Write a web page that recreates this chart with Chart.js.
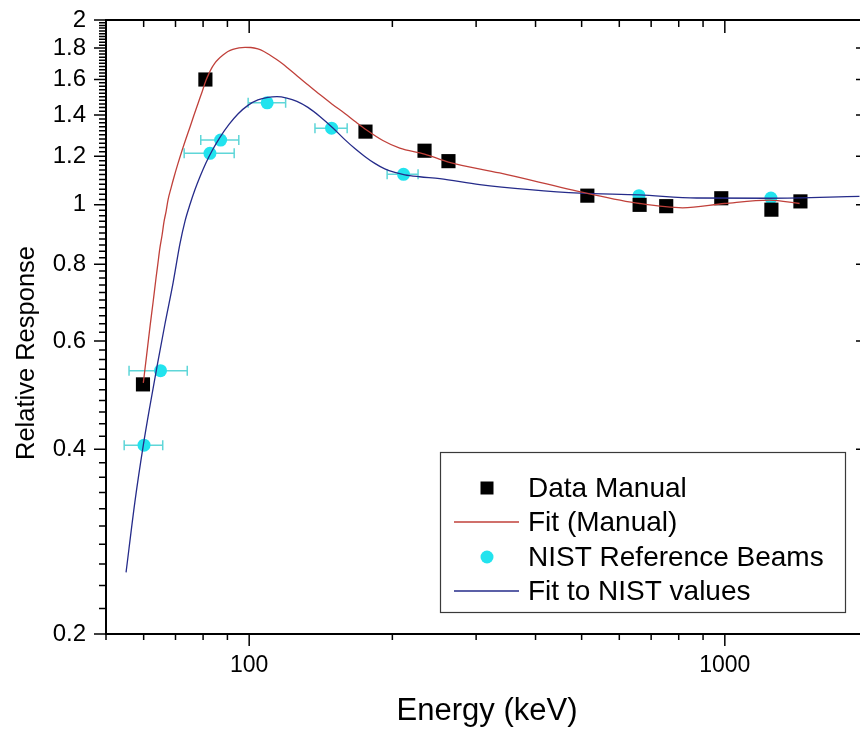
<!DOCTYPE html>
<html>
<head>
<meta charset="utf-8">
<title>Relative Response vs Energy</title>
<script src="https://cdn.jsdelivr.net/npm/chart.js@4.4.1/dist/chart.umd.min.js"></script>
<style>
  html, body { margin: 0; padding: 0; background: #fff; overflow: hidden; }
  #wrap { width: 880px; height: 730px; }
</style>
</head>
<body>
<div id="wrap"><canvas id="chart" width="880" height="730"></canvas></div>
<script>
// ---- values ----
const manualEnergy   = [59.8, 80.9, 175.6, 233.7, 262.4, 514, 662, 753, 983, 1253, 1442];
const manualResponse = [0.51, 1.60, 1.316, 1.225, 1.178, 1.035, 1.0, 0.995, 1.025, 0.982, 1.013];

const nistEnergy     = [60.1, 65.1, 82.7, 87.1, 109.1, 149.0, 211.1, 660, 1250];
const nistResponse   = [0.406, 0.537, 1.213, 1.275, 1.466, 1.333, 1.121, 1.035, 1.026];
const nistEnergyLow  = [54.6, 55.9, 73.0, 79.1, 99.5, 137.5, 195, 660, 1250];
const nistEnergyHigh = [65.8, 74.1, 93.0, 95.1, 119.3, 160.7, 226.5, 660, 1250];

// fitted curves, traced point by point
const fitManualEnergy   = [59.9, 60.8, 61.9, 62.8, 63.7, 64.3, 64.9, 65.6, 66.2, 66.9, 67.5, 68.5, 69.5, 70.8,
                           72.2, 73.6, 75.1, 76.5, 78.0, 79.6, 81.1, 82.3, 83.5, 84.7, 86.2, 88.1, 90.2, 92.4,
                           95.2, 98.0, 100.8, 104.3, 107.4, 110.5, 113.8, 117.7, 121.2, 124.8, 132.2, 140.8,
                           149.2, 158.9, 167.6, 176.5, 191.0, 207.3, 233.7, 262.4, 336.2, 514, 662, 815, 999,
                           1241, 1436];
const fitManualResponse = [0.513, 0.565, 0.635, 0.694, 0.760, 0.804, 0.850, 0.893, 0.938, 0.977, 1.018, 1.065, 1.110, 1.166,
                           1.224, 1.280, 1.339, 1.398, 1.460, 1.527, 1.594, 1.636, 1.673, 1.702, 1.728, 1.754, 1.777, 1.792,
                           1.802, 1.805, 1.804, 1.794, 1.777, 1.754, 1.728, 1.696, 1.664, 1.633, 1.573, 1.513,
                           1.460, 1.409, 1.364, 1.324, 1.273, 1.237, 1.210, 1.174, 1.127, 1.044, 1.005, 0.989, 1.005,
                           1.018, 1.005];

const fitNistEnergy   = [55.1, 57.5, 59.9, 61.9, 64.0, 66.5, 69.2, 71.5, 73.3, 75.1, 76.9, 78.8, 81.1, 83.5,
                         86.8, 90.7, 94.7, 99.4, 104.3, 109.5, 114.4, 120.0, 126.0, 132.9, 140.8, 150.0,
                         158.9, 166.8, 175.0, 183.7, 192.8, 202.4, 212.4, 228.3, 251.6, 305.3, 388.9, 495.2,
                         662, 872, 1241, 1919];
const fitNistResponse = [0.252, 0.328, 0.406, 0.472, 0.545, 0.639, 0.747, 0.863, 0.941, 1.002, 1.058, 1.111, 1.170, 1.224,
                         1.288, 1.352, 1.406, 1.452, 1.482, 1.496, 1.500, 1.492, 1.474, 1.441, 1.393, 1.334,
                         1.277, 1.235, 1.199, 1.168, 1.144, 1.129, 1.119, 1.111, 1.103, 1.079, 1.059, 1.045,
                         1.038, 1.026, 1.025, 1.032];

const xMajorTicks = [100, 1000];
const xMinorTicks = [50, 60, 70, 80, 90, 200, 300, 400, 500, 600, 700, 800, 900, 2000];
const yMajorTicks = [0.2, 0.4, 0.6, 0.8, 1, 1.2, 1.4, 1.6, 1.8, 2];

const COLORS = {
  manual:   '#000000',
  fitRed:   '#c0403a',
  nist:     '#22e3ee',
  errBar:   '#5fd6d8',
  fitBlue:  '#252b8a',
  axis:     '#000000',
};

const FONT = "'Liberation Sans', Arial, sans-serif";
Chart.defaults.font.family = FONT;
Chart.defaults.color = '#000';

const pts = (xs, ys) => xs.map((x, i) => ({ x, y: ys[i] }));

// ---- axes frame, error bars, y title and legend ----
const framePlugin = {
  id: 'frame',
  beforeDatasetsDraw(chart) {
    const { ctx, scales: { x, y } } = chart;
    ctx.save();
    ctx.strokeStyle = COLORS.errBar;
    ctx.lineWidth = 1.5;
    nistEnergy.forEach((e, i) => {
      if (nistEnergyLow[i] === nistEnergyHigh[i]) return;
      const py = y.getPixelForValue(nistResponse[i]);
      const x1 = x.getPixelForValue(nistEnergyLow[i]);
      const x2 = x.getPixelForValue(nistEnergyHigh[i]);
      ctx.beginPath();
      ctx.moveTo(x1, py); ctx.lineTo(x2, py);
      ctx.moveTo(x1, py - 5); ctx.lineTo(x1, py + 5);
      ctx.moveTo(x2, py - 5); ctx.lineTo(x2, py + 5);
      ctx.stroke();
    });
    ctx.restore();
  },
  afterDraw(chart) {
    const { ctx, chartArea: a, scales: { x, y } } = chart;
    ctx.save();
    ctx.strokeStyle = COLORS.axis;

    // box
    ctx.lineWidth = 2;
    ctx.beginPath();
    ctx.moveTo(a.left, a.top); ctx.lineTo(a.right, a.top);
    ctx.moveTo(a.right, a.top); ctx.lineTo(a.right, a.bottom);
    ctx.moveTo(a.left, a.bottom); ctx.lineTo(a.right, a.bottom);
    ctx.moveTo(a.left, a.top - 1); ctx.lineTo(a.left, a.bottom + 1);
    ctx.stroke();

    ctx.lineWidth = 1.5;
    ctx.beginPath();
    // y ticks: left outward, right inward
    const yMinor = [];
    for (let i = 0; i < yMajorTicks.length - 1; i++) {
      const step = (yMajorTicks[i + 1] - yMajorTicks[i]) / 10;
      for (let k = 1; k < 10; k++) yMinor.push(yMajorTicks[i] + step * k);
    }
    yMajorTicks.forEach(v => {
      const py = y.getPixelForValue(v);
      ctx.moveTo(a.left - 12, py); ctx.lineTo(a.left, py);
      ctx.moveTo(a.right - 12, py); ctx.lineTo(a.right, py);
    });
    yMinor.forEach(v => {
      const py = y.getPixelForValue(v);
      ctx.moveTo(a.left - 7, py); ctx.lineTo(a.left, py);
    });
    // x ticks: bottom outward, top inward
    xMajorTicks.forEach(v => {
      const px = x.getPixelForValue(v);
      ctx.moveTo(px, a.bottom); ctx.lineTo(px, a.bottom + 12);
      ctx.moveTo(px, a.top); ctx.lineTo(px, a.top + 13);
    });
    xMinorTicks.forEach(v => {
      const px = x.getPixelForValue(v);
      ctx.moveTo(px, a.bottom); ctx.lineTo(px, a.bottom + 6);
      ctx.moveTo(px, a.top); ctx.lineTo(px, a.top + 7);
    });
    ctx.stroke();

    // y axis title (sits a little below the plot centre, as in the source figure)
    ctx.save();
    ctx.translate(27, (a.top + a.bottom) / 2 + 26);
    ctx.rotate(-Math.PI / 2);
    ctx.font = '25.5px ' + FONT;
    ctx.fillStyle = '#000';
    ctx.textAlign = 'center';
    ctx.textBaseline = 'middle';
    ctx.fillText('Relative Response', 0, 0);
    ctx.restore();

    // legend box
    const bx = a.right - 428, by = a.bottom - 182, bw = 405, bh = 160;
    ctx.lineWidth = 1.2;
    ctx.strokeStyle = '#3a3a3a';
    ctx.fillStyle = '#fff';
    ctx.fillRect(bx, by, bw, bh);
    ctx.strokeRect(bx + 0.5, by + 0.5, bw, bh);

    const rowY = [by + 36, by + 70, by + 105, by + 139];
    const symX = bx + 47, textX = bx + 88;
    const items = chart.data.datasets.filter(d => d.legendRow !== undefined)
      .sort((p, q) => p.legendRow - q.legendRow);
    ctx.font = '28px ' + FONT;
    ctx.textBaseline = 'middle';
    ctx.textAlign = 'left';
    items.forEach((d, i) => {
      const ry = rowY[i];
      if (d.showLine) {
        ctx.strokeStyle = d.borderColor;
        ctx.lineWidth = d.borderWidth;
        ctx.beginPath();
        ctx.moveTo(symX - 33, ry); ctx.lineTo(symX + 32, ry);
        ctx.stroke();
      } else {
        ctx.fillStyle = d.backgroundColor;
        ctx.beginPath();
        if (d.pointStyle === 'rect') ctx.rect(symX - 6.5, ry - 6.5, 13, 13);
        else ctx.arc(symX, ry, 6.5, 0, Math.PI * 2);
        ctx.fill();
      }
      ctx.fillStyle = '#000';
      ctx.fillText(d.label, textX, ry + 1);
    });
    ctx.restore();
  }
};

const hiddenTicks = { display: true, drawOnChartArea: false, drawTicks: true,
                      color: 'transparent', tickColor: 'transparent' };

new Chart(document.getElementById('chart'), {
  type: 'scatter',
  data: {
    datasets: [
      {
        label: 'Fit (Manual)', legendRow: 1,
        data: pts(fitManualEnergy, fitManualResponse),
        showLine: true, borderColor: COLORS.fitRed, borderWidth: 1.3,
        pointRadius: 0, cubicInterpolationMode: 'monotone', order: 0,
      },
      {
        label: 'Fit to NIST values', legendRow: 3,
        data: pts(fitNistEnergy, fitNistResponse),
        showLine: true, borderColor: COLORS.fitBlue, borderWidth: 1.3,
        pointRadius: 0, cubicInterpolationMode: 'monotone', order: 1,
      },
      {
        label: 'Data Manual', legendRow: 0,
        data: pts(manualEnergy, manualResponse),
        showLine: false, pointStyle: 'rect', pointRadius: 10,
        backgroundColor: COLORS.manual, borderColor: COLORS.manual, borderWidth: 0, order: 2,
      },
      {
        label: 'NIST Reference Beams', legendRow: 2,
        data: pts(nistEnergy, nistResponse),
        showLine: false, pointStyle: 'circle', pointRadius: 6.5,
        backgroundColor: COLORS.nist, borderColor: COLORS.nist, borderWidth: 0, order: 3,
      },
    ],
  },
  options: {
    responsive: false,
    animation: false,
    events: [],
    layout: { padding: { top: 20, right: 12, left: 0, bottom: 0 } },
    plugins: {
      legend: { display: false },
      tooltip: { enabled: false },
    },
    scales: {
      x: {
        type: 'logarithmic',
        position: 'bottom',
        min: 50,
        max: 2000,
        afterBuildTicks: s => { s.ticks = xMajorTicks.map(v => ({ value: v })); },
        afterFit: s => { s.height = 96; },
        grid: { ...hiddenTicks, tickLength: 18 },
        border: { display: false },
        ticks: {
          color: '#000', font: { size: 23 }, padding: 0,
          maxRotation: 0, autoSkip: false, callback: v => String(v),
        },
        title: {
          display: true, text: 'Energy (keV)', color: '#000',
          font: { size: 31 }, padding: { top: 0, bottom: 0 },
        },
      },
      y: {
        type: 'logarithmic',
        position: 'left',
        min: 0.2,
        max: 2,
        afterBuildTicks: s => { s.ticks = yMajorTicks.map(v => ({ value: v })); },
        afterFit: s => { s.width = 106; },
        grid: { ...hiddenTicks, tickLength: 20 },
        border: { display: false },
        ticks: {
          color: '#000', font: { size: 24 }, padding: 0,
          autoSkip: false, callback: v => String(v),
        },
        title: { display: false },
      },
    },
  },
  plugins: [framePlugin],
});
</script>
</body>
</html>
